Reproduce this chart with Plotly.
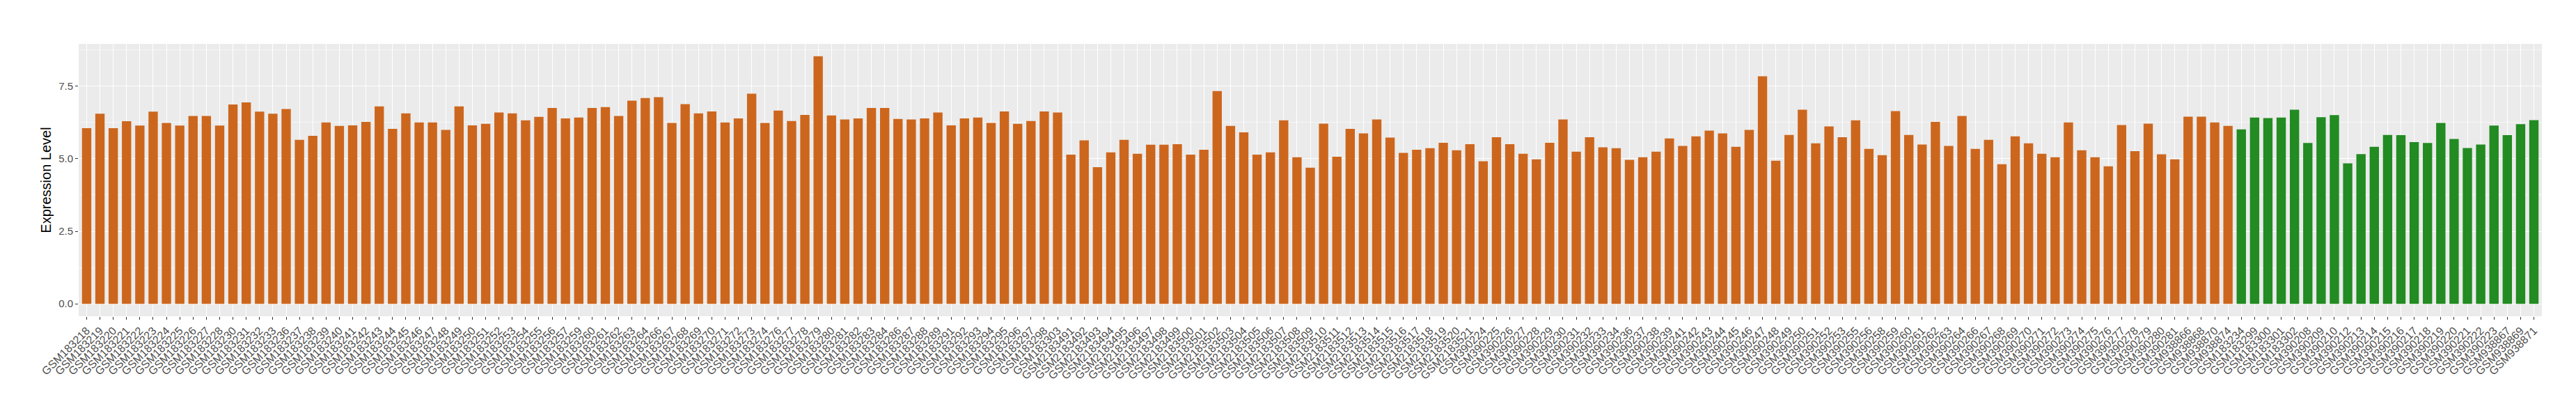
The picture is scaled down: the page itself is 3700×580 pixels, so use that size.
import plotly.graph_objects as go

# ---- data ----
samples_orange = [
    "GSM183218", "GSM183219", "GSM183220", "GSM183221", "GSM183222", "GSM183223", "GSM183224", "GSM183225",
    "GSM183226", "GSM183227", "GSM183228", "GSM183230", "GSM183231", "GSM183232", "GSM183233", "GSM183236",
    "GSM183237", "GSM183238", "GSM183239", "GSM183240", "GSM183241", "GSM183242", "GSM183243", "GSM183244",
    "GSM183245", "GSM183246", "GSM183247", "GSM183248", "GSM183249", "GSM183250", "GSM183251", "GSM183252",
    "GSM183253", "GSM183254", "GSM183255", "GSM183256", "GSM183257", "GSM183259", "GSM183260", "GSM183261",
    "GSM183262", "GSM183263", "GSM183264", "GSM183266", "GSM183267", "GSM183268", "GSM183269", "GSM183270",
    "GSM183271", "GSM183272", "GSM183273", "GSM183274", "GSM183276", "GSM183277", "GSM183278", "GSM183279",
    "GSM183280", "GSM183281", "GSM183282", "GSM183283", "GSM183284", "GSM183286", "GSM183287", "GSM183288",
    "GSM183289", "GSM183291", "GSM183292", "GSM183293", "GSM183294", "GSM183295", "GSM183296", "GSM183297",
    "GSM183298", "GSM183303",
    "GSM2183491", "GSM2183492", "GSM2183493", "GSM2183494", "GSM2183495", "GSM2183496", "GSM2183497",
    "GSM2183498", "GSM2183499", "GSM2183500", "GSM2183501", "GSM2183502", "GSM2183503", "GSM2183504",
    "GSM2183505", "GSM2183506", "GSM2183507", "GSM2183508", "GSM2183509", "GSM2183510", "GSM2183511",
    "GSM2183512", "GSM2183513", "GSM2183514", "GSM2183515", "GSM2183516", "GSM2183517", "GSM2183518",
    "GSM2183519", "GSM2183520", "GSM2183521",
    "GSM390224", "GSM390225", "GSM390226", "GSM390227", "GSM390228", "GSM390229", "GSM390230", "GSM390231",
    "GSM390232", "GSM390233", "GSM390234", "GSM390236", "GSM390237", "GSM390238", "GSM390239", "GSM390241",
    "GSM390242", "GSM390243", "GSM390244", "GSM390245", "GSM390246", "GSM390247", "GSM390248", "GSM390249",
    "GSM390250", "GSM390251", "GSM390252", "GSM390253", "GSM390255", "GSM390256", "GSM390258", "GSM390259",
    "GSM390260", "GSM390261", "GSM390262", "GSM390263", "GSM390264", "GSM390266", "GSM390267", "GSM390268",
    "GSM390269", "GSM390270", "GSM390271", "GSM390272", "GSM390273", "GSM390274", "GSM390275", "GSM390276",
    "GSM390277", "GSM390278", "GSM390279", "GSM390280", "GSM390281",
    "GSM938866", "GSM938868", "GSM938870", "GSM938874",
]
values_orange = [
    6.05, 6.55, 6.05, 6.29, 6.14, 6.62, 6.23, 6.14, 6.47, 6.47, 6.14, 6.87, 6.94, 6.62, 6.55, 6.71,
    5.65, 5.79, 6.25, 6.13, 6.15, 6.27, 6.80, 6.03, 6.56, 6.25, 6.25, 5.99, 6.80, 6.15, 6.20, 6.59,
    6.56, 6.32, 6.44, 6.75, 6.39, 6.42, 6.75, 6.78, 6.47, 7.00, 7.09, 7.12, 6.23, 6.88, 6.56, 6.63,
    6.25, 6.39, 7.24, 6.23, 6.66, 6.30, 6.51, 8.53, 6.49, 6.35, 6.39, 6.75, 6.75, 6.37, 6.35, 6.39,
    6.59, 6.15, 6.39, 6.42, 6.23, 6.63, 6.20, 6.30, 6.63, 6.59, 5.14, 5.63, 4.71, 5.22, 5.65, 5.17,
    5.48, 5.48, 5.50, 5.14, 5.31, 7.33, 6.13, 5.91, 5.14, 5.22, 6.32, 5.05, 4.69, 6.21, 5.07, 6.03,
    5.87, 6.35, 5.73, 5.20, 5.31, 5.36, 5.55, 5.29, 5.50, 4.91, 5.74, 5.50, 5.17, 4.98, 5.55, 6.35,
    5.24, 5.74, 5.39, 5.36, 4.96, 5.05, 5.24, 5.70, 5.44, 5.77, 5.97, 5.87, 5.41, 5.99, 7.84, 4.93,
    5.82, 6.69, 5.53, 6.11, 5.74, 6.32, 5.34, 5.12, 6.64, 5.82, 5.49, 6.27, 5.44, 6.47, 5.34, 5.65,
    4.81, 5.77, 5.53, 5.17, 5.05, 6.25, 5.29, 5.05, 4.74, 6.16, 5.26, 6.21, 5.15, 4.98, 6.45, 6.45,
    6.25, 6.13,
]
samples_green = [
    "GSM183234", "GSM183299", "GSM183300", "GSM183301", "GSM183302",
    "GSM390208", "GSM390209", "GSM390210", "GSM390212", "GSM390213", "GSM390214", "GSM390215",
    "GSM390216", "GSM390217", "GSM390218", "GSM390219", "GSM390220", "GSM390221", "GSM390222",
    "GSM390223", "GSM938867", "GSM938869", "GSM938871",
]
values_green = [
    6.01, 6.42, 6.40, 6.42, 6.69, 5.54, 6.43, 6.50, 4.84, 5.16, 5.41, 5.82, 5.81, 5.57, 5.54,
    6.23, 5.68, 5.37, 5.49, 6.14, 5.81, 6.19, 6.33,
]
y_ticks = [0.0, 2.5, 5.0, 7.5]
y_tick_labels = ["0.0", "2.5", "5.0", "7.5"]

all_samples = samples_orange + samples_green
all_values = values_orange + values_green
ymax = max(all_values)

fig = go.Figure()
fig.add_trace(go.Bar(x=samples_orange, y=values_orange, marker_color="#CD661D",
                     marker_line_width=0, width=0.7, showlegend=False))
fig.add_trace(go.Bar(x=samples_green, y=values_green, marker_color="#228B22",
                     marker_line_width=0, width=0.7, showlegend=False))

fig.update_layout(
    width=3700, height=580,
    margin=dict(l=105, r=57, t=55, b=134, pad=0),
    paper_bgcolor="white",
    plot_bgcolor="#EBEBEB",
    font=dict(family="Liberation Sans, Arial, sans-serif", color="#4D4D4D"),
    bargap=0.3,
    xaxis=dict(
        type="category",
        categoryorder="array",
        categoryarray=all_samples,
        range=[-0.6, len(all_samples) - 1 + 0.6],
        tickangle=-45,
        tickfont=dict(size=16, color="#4D4D4D"),
        showgrid=True, gridcolor="white", gridwidth=1,
        ticks="outside", ticklen=4, tickcolor="#333333", tickwidth=1,
        zeroline=False, showline=False, automargin=False,
    ),
    yaxis=dict(
        title=dict(text="Expression Level", font=dict(size=20, color="black"), standoff=5),
        range=[-0.05 * ymax, 1.05 * ymax],
        tickvals=y_ticks, ticktext=y_tick_labels,
        tickfont=dict(size=15, color="#4D4D4D"),
        showgrid=True, gridcolor="white", gridwidth=1.4,
        minor=dict(dtick=1.25, tick0=0, showgrid=True, gridcolor="#F7F7F7", gridwidth=0.7),
        ticks="outside", ticklen=4, tickcolor="#333333", tickwidth=1,
        zeroline=False, showline=False, automargin=False,
    ),
)

fig.write_html("out.html")
